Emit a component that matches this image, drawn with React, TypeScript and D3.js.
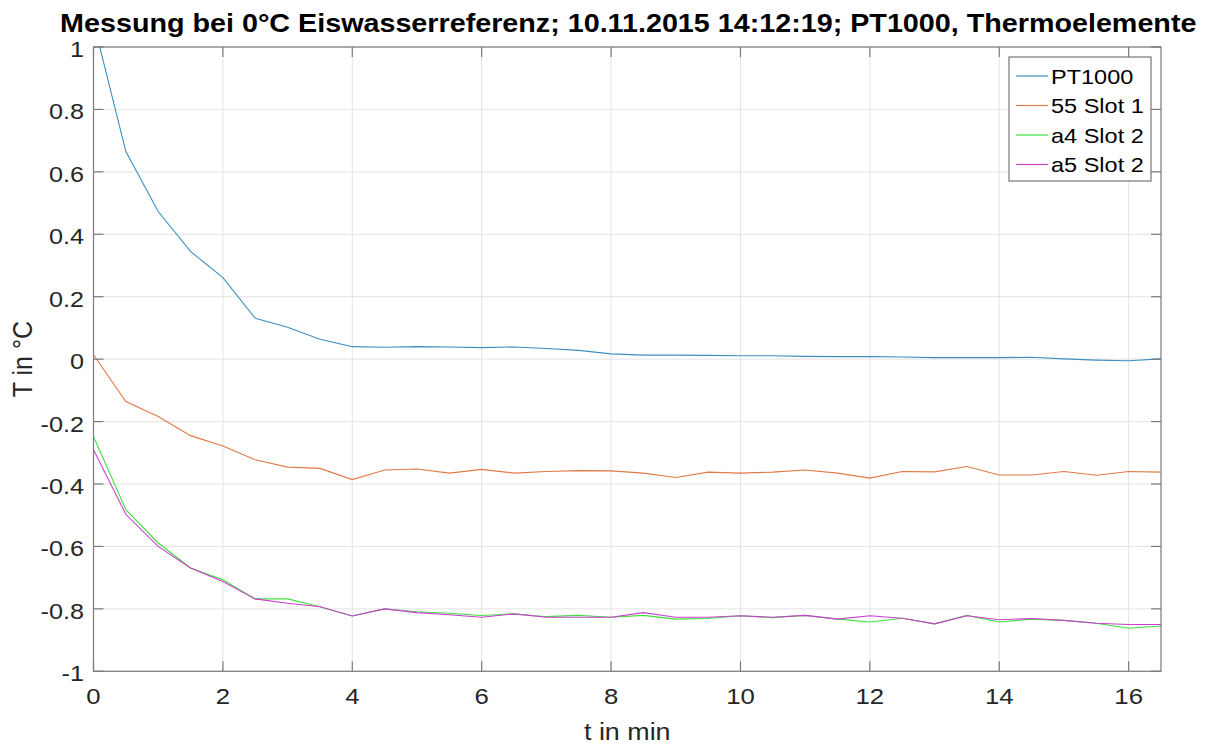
import React from "react";
import * as d3 from "d3";

// Sample times in minutes (one reading every 30 s)
const times: number[] = [
  0, 0.5, 1, 1.5, 2, 2.5, 3, 3.5, 4, 4.5, 5, 5.5, 6, 6.5, 7, 7.5, 8, 8.5,
  9, 9.5, 10, 10.5, 11, 11.5, 12, 12.5, 13, 13.5, 14, 14.5, 15, 15.5, 16, 16.5,
];

// Temperatures in °C
const pt1000: number[] = [
  1.08, 0.665, 0.473, 0.345, 0.261, 0.131, 0.102, 0.064, 0.04, 0.038, 0.04, 0.039,
  0.037, 0.039, 0.034, 0.028, 0.017, 0.013, 0.013, 0.012, 0.011, 0.011, 0.009,
  0.008, 0.008, 0.007, 0.005, 0.005, 0.005, 0.006, 0.001, -0.003, -0.005, 0.001,
];
const slot1_55: number[] = [
  0.014, -0.136, -0.184, -0.245, -0.278, -0.322, -0.346, -0.35, -0.386, -0.355,
  -0.352, -0.365, -0.353, -0.365, -0.36, -0.357, -0.358, -0.365, -0.379, -0.362,
  -0.365, -0.362, -0.355, -0.365, -0.381, -0.36, -0.361, -0.344, -0.371, -0.371,
  -0.36, -0.372, -0.36, -0.362,
];
const slot2_a4: number[] = [
  -0.248, -0.482, -0.589, -0.669, -0.707, -0.768, -0.768, -0.793, -0.823, -0.8,
  -0.809, -0.814, -0.821, -0.816, -0.825, -0.821, -0.827, -0.821, -0.833, -0.831,
  -0.822, -0.828, -0.821, -0.833, -0.842, -0.83, -0.848, -0.821, -0.842, -0.833,
  -0.837, -0.846, -0.862, -0.855,
];
const slot2_a5: number[] = [
  -0.29, -0.497, -0.6, -0.669, -0.712, -0.768, -0.782, -0.793, -0.823, -0.8,
  -0.812, -0.819, -0.827, -0.816, -0.827, -0.827, -0.827, -0.812, -0.827, -0.827,
  -0.822, -0.827, -0.821, -0.833, -0.822, -0.83, -0.848, -0.822, -0.835, -0.831,
  -0.837, -0.846, -0.85, -0.85,
];

const seriesNames: string[] = ["PT1000", "55 Slot 1", "a4 Slot 2", "a5 Slot 2"];
const seriesColors: string[] = ["#3d8fc2", "#e07a48", "#3ee03e", "#cc3fd0"];
const seriesValues: number[][] = [pt1000, slot1_55, slot2_a4, slot2_a5];

const xTicks: number[] = [0, 2, 4, 6, 8, 10, 12, 14, 16];
const yTicks: number[] = [-1, -0.8, -0.6, -0.4, -0.2, 0, 0.2, 0.4, 0.6, 0.8, 1];

const titleText = "Messung bei 0°C Eiswasserreferenz; 10.11.2015 14:12:19; PT1000, Thermoelemente";
const xLabel = "t in min";
const yLabel = "T in °C";

const W = 1209;
const H = 744;
const left = 93.5;
const right = 1161;
const top = 47;
const bottom = 671.3;
const SX = 1.12; // horizontal text stretch
const FONT = "Liberation Sans, Arial, Helvetica, sans-serif";

export default function App() {
  const x = d3.scaleLinear().domain([0, 16.5]).range([left, right]);
  const y = d3.scaleLinear().domain([-1, 1]).range([bottom, top]);
  const line = d3
    .line<number>()
    .x((_, i) => x(times[i]))
    .y((d) => y(d));

  const axisColor = "#7a7a7a";
  const gridColor = "#e3e3e3";
  const tickLen = 10;

  const legendX = 1009;
  const legendY = 57;
  const legendW = 142;
  const legendH = 124;

  const fmt = (v: number) => d3.format("~g")(Number(v.toFixed(1))).replace("−", "-");

  return (
    <svg
      width={W}
      height={H}
      style={{ position: "absolute", left: 0, top: 0, background: "#fff" }}
      fontFamily={FONT}
    >
      <rect x={0} y={0} width={W} height={H} fill="#fff" />
      <defs>
        <clipPath id="plotClip">
          <rect x={left} y={top} width={right - left} height={bottom - top} />
        </clipPath>
      </defs>

      {/* grid */}
      <g stroke={gridColor} strokeWidth={1}>
        {xTicks.map((t) => (
          <line key={"gx" + t} x1={x(t)} x2={x(t)} y1={top} y2={bottom} />
        ))}
        {yTicks.map((t) => (
          <line key={"gy" + t} x1={left} x2={right} y1={y(t)} y2={y(t)} />
        ))}
      </g>

      {/* series */}
      <g clipPath="url(#plotClip)" fill="none" strokeWidth={1.1}>
        {seriesValues.map((vals, i) => (
          <path key={seriesNames[i]} d={line(vals) || ""} stroke={seriesColors[i]} />
        ))}
      </g>

      {/* box and ticks */}
      <rect x={left} y={top} width={right - left} height={bottom - top} fill="none" stroke={axisColor} strokeWidth={1.2} />
      <g stroke={axisColor} strokeWidth={1.2}>
        {xTicks.map((t) => (
          <g key={"tx" + t}>
            <line x1={x(t)} x2={x(t)} y1={bottom} y2={bottom - tickLen} />
            <line x1={x(t)} x2={x(t)} y1={top} y2={top + tickLen} />
          </g>
        ))}
        {yTicks.map((t) => (
          <g key={"ty" + t}>
            <line x1={left} x2={left + tickLen} y1={y(t)} y2={y(t)} />
            <line x1={right} x2={right - tickLen} y1={y(t)} y2={y(t)} />
          </g>
        ))}
      </g>

      {/* tick labels */}
      <g fill="#262626">
        {xTicks.map((t) => (
          <text key={"lx" + t} transform={`translate(${x(t)},${704}) scale(${SX},1)`} textAnchor="middle" fontSize={23}>
            {fmt(t)}
          </text>
        ))}
        {yTicks.map((t) => (
          <text key={"ly" + t} transform={`translate(${84},${y(t) + 10}) scale(${SX},1)`} textAnchor="end" fontSize={22.5}>
            {fmt(t)}
          </text>
        ))}
      </g>

      {/* axis labels */}
      <text transform={`translate(${(left + right) / 2},${740}) scale(${SX},1)`} textAnchor="middle" fontSize={24} fill="#262626">
        {xLabel}
      </text>
      <text transform={`translate(${32},${(top + bottom) / 2}) rotate(-90) scale(1,${SX})`} textAnchor="middle" fontSize={25} fill="#262626">
        {yLabel}
      </text>

      {/* title */}
      <text transform={`translate(${(left + right) / 2 + 1},${32}) scale(1.105,1)`} textAnchor="middle" fontSize={26} fontWeight="bold" fill="#000">
        {titleText}
      </text>

      {/* legend */}
      <rect x={legendX} y={legendY} width={legendW} height={legendH} fill="#fff" stroke="#777" strokeWidth={1.2} />
      {seriesNames.map((name, i) => {
        const cy = legendY + 19 + i * 29.5;
        return (
          <g key={"lg" + name}>
            <line x1={legendX + 7} x2={legendX + 39} y1={cy} y2={cy} stroke={seriesColors[i]} strokeWidth={1.2} />
            <text transform={`translate(${legendX + 42},${cy + 7.5}) scale(${SX},1)`} fontSize={21} fill="#000">
              {name}
            </text>
          </g>
        );
      })}
    </svg>
  );
}
